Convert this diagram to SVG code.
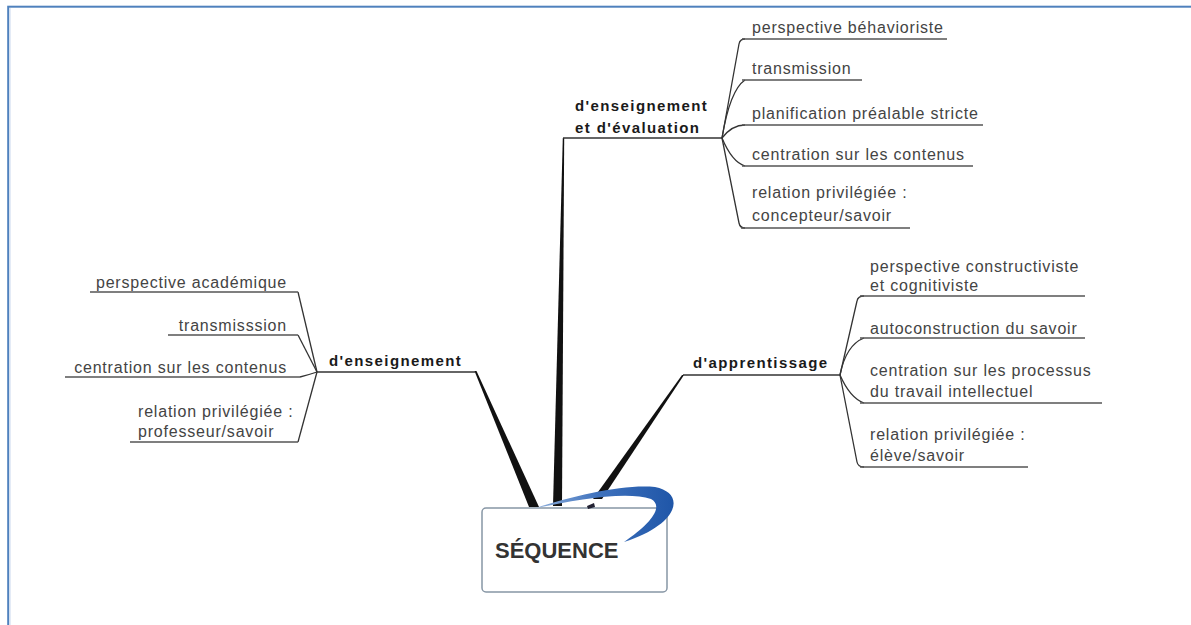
<svg xmlns="http://www.w3.org/2000/svg" width="1191" height="625" viewBox="0 0 1191 625">
<defs>
<style>
.t{font-family:"Liberation Sans",Arial,sans-serif;font-size:16px;letter-spacing:0.8px;fill:#444}
.h{font-family:"Liberation Sans",Arial,sans-serif;font-size:15px;font-weight:bold;letter-spacing:1.4px;fill:#1a1a1a}
.u{stroke:#555;stroke-width:1.5;fill:none}
.c{stroke:#333;stroke-width:1.3;fill:none}
.br{fill:#111}
</style>
<linearGradient id="sw" x1="0" y1="0" x2="1" y2="0">
<stop offset="0" stop-color="#8fb0dc"/>
<stop offset="0.45" stop-color="#3f72bd"/>
<stop offset="1" stop-color="#1f56a8"/>
</linearGradient>
</defs>
<rect width="1191" height="625" fill="#fff"/>
<rect x="8.2" y="6.7" width="1300" height="700" fill="none" stroke="#4f81bd" stroke-width="2"/>
<line x1="10" y1="8" x2="10" y2="625" stroke="#c9d8ee" stroke-width="1"/>

<g id="connectors">
<path class="br" d="M529,507 L539,507 L476.5,371 L474.5,371 Z"/>
<path class="br" d="M553,506 L562,506 L564.2,138 L562.8,138 Z"/>
<path class="br" d="M593,499 L602,499 L684,375 L682,375 Z"/>
<polyline class="c" points="317,372 475,372"/>
<polyline class="c" points="563,138 722,138"/>
<polyline class="c" points="683,375 840,375"/>
<path class="c" d="M317,372 L298,292"/>
<path class="c" d="M317,372 L298,335"/>
<path class="c" d="M317,372 Q308,375 300,377"/>
<path class="c" d="M317,372 L298,442"/>
<path class="c" d="M722,138 L739,44 Q740,39 745,39"/>
<path class="c" d="M722,138 Q730,90 745,80"/>
<path class="c" d="M722,138 Q732,125 745,125"/>
<path class="c" d="M722,138 Q732,162 745,166"/>
<path class="c" d="M722,138 L739,223 Q740,228 745,228"/>
<path class="c" d="M840,375 L857,301 Q858,296 864,296"/>
<path class="c" d="M840,375 Q846,345 864,338"/>
<path class="c" d="M840,375 Q850,398 864,403"/>
<path class="c" d="M840,375 L857,462 Q858,467 864,467"/>
</g>

<g id="center">
<rect x="482" y="508" width="185" height="84" rx="4" fill="#fff" stroke="#8796a5" stroke-width="1.5"/>
<text x="495" y="558" style="font-family:'Liberation Sans',Arial,sans-serif;font-size:22px;font-weight:bold;fill:#333">SÉQUENCE</text>
<path d="M536,508 C575,495 625,484 655,487 C686,493 680,524 624,542 C652,523 664,506 651,499 C627,491 580,499 536,508 Z" fill="url(#sw)"/>
<path d="M587,506 L594,503 L595,507 L588,509 Z" fill="#223"/>
</g>

<g id="n-eval">
<text class="h" x="575" y="111">d'enseignement</text>
<text class="h" x="575" y="133">et d'évaluation</text>
</g>
<g id="n-eval-1"><line class="u" x1="742" y1="39" x2="947" y2="39"/><text class="t" x="752" y="33">perspective béhavioriste</text></g>
<g id="n-eval-2"><line class="u" x1="742" y1="80" x2="862" y2="80"/><text class="t" x="752" y="74">transmission</text></g>
<g id="n-eval-3"><line class="u" x1="742" y1="125" x2="983" y2="125"/><text class="t" x="752" y="119">planification préalable stricte</text></g>
<g id="n-eval-4"><line class="u" x1="742" y1="166" x2="973" y2="166"/><text class="t" x="752" y="160">centration sur les contenus</text></g>
<g id="n-eval-5"><line class="u" x1="741" y1="228" x2="910" y2="228"/><text class="t" x="752" y="198">relation privilégiée :</text><text class="t" x="752" y="221">concepteur/savoir</text></g>

<g id="n-ens">
<text class="h" x="329" y="366">d'enseignement</text>
</g>
<g id="n-ens-1"><line class="u" x1="90" y1="292" x2="298" y2="292"/><text class="t" x="287" y="288" text-anchor="end">perspective académique</text></g>
<g id="n-ens-2"><line class="u" x1="168" y1="335" x2="298" y2="335"/><text class="t" x="287" y="331" text-anchor="end">transmisssion</text></g>
<g id="n-ens-3"><line class="u" x1="65" y1="377" x2="300" y2="377"/><text class="t" x="287" y="373" text-anchor="end">centration sur les contenus</text></g>
<g id="n-ens-4"><line class="u" x1="130" y1="442" x2="298" y2="442"/><text class="t" x="138" y="417">relation privilégiée :</text><text class="t" x="138" y="437">professeur/savoir</text></g>

<g id="n-app">
<text class="h" x="693" y="368">d'apprentissage</text>
</g>
<g id="n-app-1"><line class="u" x1="860" y1="296" x2="1085" y2="296"/><text class="t" x="870" y="272">perspective constructiviste</text><text class="t" x="870" y="291">et cognitiviste</text></g>
<g id="n-app-2"><line class="u" x1="860" y1="338" x2="1085" y2="338"/><text class="t" x="870" y="334">autoconstruction du savoir</text></g>
<g id="n-app-3"><line class="u" x1="860" y1="403" x2="1102" y2="403"/><text class="t" x="870" y="376">centration sur les processus</text><text class="t" x="870" y="397">du travail intellectuel</text></g>
<g id="n-app-4"><line class="u" x1="860" y1="467" x2="1028" y2="467"/><text class="t" x="870" y="440">relation privilégiée :</text><text class="t" x="870" y="461">élève/savoir</text></g>
</svg>
